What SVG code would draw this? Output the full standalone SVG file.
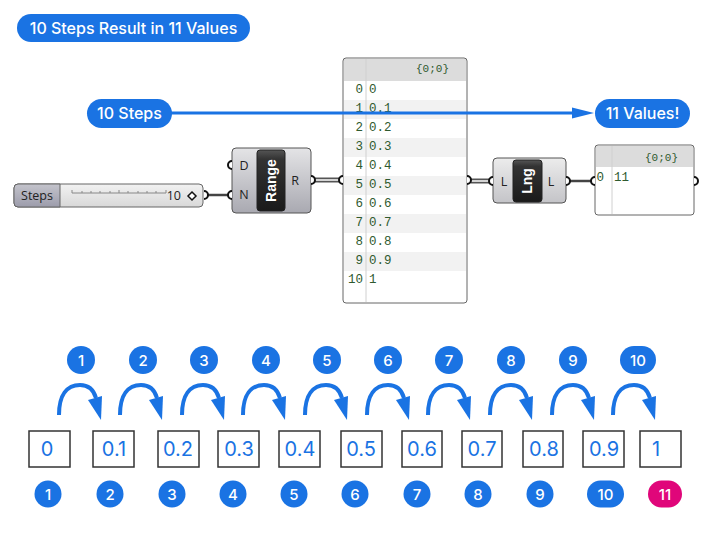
<svg xmlns="http://www.w3.org/2000/svg" xmlns:xlink="http://www.w3.org/1999/xlink" width="712" height="556" viewBox="0 0 712 556">
<style>
.pill{fill:#1a73e3}
.pt{font-family:Inter,"Liberation Sans",sans-serif;font-weight:500;fill:#fff;text-anchor:middle}
.big{font-size:16px}
.num{font-size:15px}
.box{fill:#fff;stroke:#333;stroke-width:1.5}
.bt{font-family:Inter,"Liberation Sans",sans-serif;font-size:20px;fill:#1a73e3;text-anchor:middle}
.wire{stroke:#444;stroke-width:2.5;fill:none}
.dw{stroke:#555;stroke-width:5;fill:none}
.dwi{stroke:#fff;stroke-width:1.5;fill:none}
.nub{fill:#fff;stroke:#111;stroke-width:2}
.comp{stroke:#555;stroke-width:1}
.port{font-family:"Open Sans","Liberation Sans",sans-serif;font-size:12.5px;fill:#222;text-anchor:middle}
.ctitle{font-family:"Liberation Sans",sans-serif;font-size:14px;font-weight:bold;fill:#fff;text-anchor:middle}
.pn{font-family:"Liberation Mono",monospace;font-size:12.5px;fill:#2f5a2f}
.ph{font-family:"Liberation Mono",monospace;font-size:11px;fill:#2f5a2f}
.stripe{fill:#f2f2f2}
.hop{fill:none;stroke:#1a73e3;stroke-width:4}
.hoph{fill:#1a73e3}
</style>
<defs>
<linearGradient id="body" x1="0" y1="0" x2="0" y2="1">
<stop offset="0" stop-color="#e4e4e6"/>
<stop offset="1" stop-color="#a9a9b1"/>
</linearGradient>
<linearGradient id="body2" x1="0" y1="0" x2="0" y2="1">
<stop offset="0" stop-color="#ececec"/>
<stop offset="1" stop-color="#c4c4c8"/>
</linearGradient>
<linearGradient id="blk" x1="0" y1="0" x2="0" y2="1">
<stop offset="0" stop-color="#555"/>
<stop offset="0.15" stop-color="#333"/>
<stop offset="1" stop-color="#1a1a1a"/>
</linearGradient>
<linearGradient id="slab" x1="0" y1="0" x2="0" y2="1">
<stop offset="0" stop-color="#c4c4cc"/>
<stop offset="1" stop-color="#9c9cab"/>
</linearGradient>
<linearGradient id="sval" x1="0" y1="0" x2="0" y2="1">
<stop offset="0" stop-color="#f2f2f2"/>
<stop offset="1" stop-color="#d8d8d8"/>
</linearGradient>
<g id="hop">
<path class="hop" d="M0 0 C0 -20 8 -30 21 -30 C30 -30 35 -24 37 -17"/>
<polygon class="hoph" points="29,-15 43,-19 42,5"/>
</g>
</defs>

<!-- title -->
<g id="title">
<rect class="pill" x="17" y="14" width="233" height="28" rx="14"/>
<text class="pt big" x="133.5" y="34">10 Steps Result in 11 Values</text>
</g>

<!-- connectors -->
<g id="connectors">
<path class="wire" d="M207 195 H228"/>
<path class="dw" d="M315 180 H339"/>
<path class="dwi" d="M315 180 H339"/>
<path class="dw" d="M471 181 H489"/>
<path class="dwi" d="M471 181 H489"/>
<path class="wire" d="M570 181 H591"/>
</g>

<!-- slider -->
<g id="slider">
<rect x="14" y="184" width="189" height="23" rx="4" fill="url(#sval)" stroke="#666" stroke-width="1"/>
<path d="M18 184 H60 V207 H18 A4 4 0 0 1 14 203 V188 A4 4 0 0 1 18 184 Z" fill="url(#slab)" stroke="#666" stroke-width="1"/>
<text x="37" y="200" class="port">Steps</text>
<path d="M72 193 H166 M72 193 v-3 M82 193 v-2 M91 193 v-2 M100 193 v-2 M110 193 v-2 M119 193 v-3 M128 193 v-2 M138 193 v-2 M147 193 v-2 M156 193 v-2 M166 193 v-3" stroke="#888" stroke-width="1" fill="none"/>
<text x="181" y="200" font-family="'Open Sans','Liberation Sans',sans-serif" font-size="12.5" fill="#222" text-anchor="end">10</text>
<path d="M192 192 L196 196 L192 200 L188 196 Z" fill="#fff" stroke="#111" stroke-width="1.5"/>
<path class="nub" d="M204 191 A4 4 0 0 1 204 199"/>
</g>

<!-- Range component -->
<g id="range">
<rect class="comp" x="232" y="148" width="79" height="65" rx="4" fill="url(#body)"/>
<rect x="257" y="150" width="28" height="61" rx="3" fill="url(#blk)" stroke="#222"/>
<text class="ctitle" transform="translate(276 180.5) rotate(-90)">Range</text>
<text class="port" x="244" y="170">D</text>
<text class="port" x="244" y="199">N</text>
<text class="port" x="295" y="185">R</text>
<path class="nub" d="M232 161 A4 4 0 0 0 232 169"/>
<path class="nub" d="M232 191 A4 4 0 0 0 232 199"/>
<path class="nub" d="M311 176 A4 4 0 0 1 311 184"/>
</g>

<!-- big panel -->
<g id="panel1">
<rect x="343" y="58" width="124" height="245" rx="3" fill="#fff" stroke="#666" stroke-width="1"/>
<rect x="344" y="59" width="122" height="22" fill="#dcdcdc"/>
<rect class="stripe" x="344" y="100" width="122" height="19"/>
<rect class="stripe" x="344" y="138" width="122" height="19"/>
<rect class="stripe" x="344" y="176" width="122" height="19"/>
<rect class="stripe" x="344" y="214" width="122" height="19"/>
<rect class="stripe" x="344" y="252" width="122" height="19"/>
<line x1="366" y1="59" x2="366" y2="302" stroke="#d0d0d0" stroke-width="1"/>
<text class="ph" x="449" y="72" text-anchor="end">{0;0}</text>
<g class="pn">
<text x="363" y="93" text-anchor="end">0</text><text x="369" y="93">0</text>
<text x="363" y="112" text-anchor="end">1</text><text x="369" y="112">0.1</text>
<text x="363" y="131" text-anchor="end">2</text><text x="369" y="131">0.2</text>
<text x="363" y="150" text-anchor="end">3</text><text x="369" y="150">0.3</text>
<text x="363" y="169" text-anchor="end">4</text><text x="369" y="169">0.4</text>
<text x="363" y="188" text-anchor="end">5</text><text x="369" y="188">0.5</text>
<text x="363" y="207" text-anchor="end">6</text><text x="369" y="207">0.6</text>
<text x="363" y="226" text-anchor="end">7</text><text x="369" y="226">0.7</text>
<text x="363" y="245" text-anchor="end">8</text><text x="369" y="245">0.8</text>
<text x="363" y="264" text-anchor="end">9</text><text x="369" y="264">0.9</text>
<text x="363" y="283" text-anchor="end">10</text><text x="369" y="283">1</text>
</g>
<path class="nub" d="M343 176 A4 4 0 0 0 343 184"/>
<path class="nub" d="M467 176 A4 4 0 0 1 467 184"/>
</g>

<!-- Lng component -->
<g id="lng">
<rect class="comp" x="493" y="158" width="73" height="45" rx="4" fill="url(#body2)"/>
<rect x="513" y="160" width="29" height="42" rx="3" fill="url(#blk)" stroke="#222"/>
<text class="ctitle" transform="translate(532 181) rotate(-90)">Lng</text>
<text class="port" x="504" y="186">L</text>
<text class="port" x="551" y="186">L</text>
<path class="nub" d="M493 177 A4 4 0 0 0 493 185"/>
<path class="nub" d="M566 177 A4 4 0 0 1 566 185"/>
</g>

<!-- small panel -->
<g id="panel2">
<rect x="595" y="145" width="99" height="70" rx="3" fill="#fff" stroke="#666" stroke-width="1"/>
<rect x="596" y="146" width="97" height="21" fill="#dcdcdc"/>
<line x1="612" y1="146" x2="612" y2="214" stroke="#d0d0d0" stroke-width="1"/>
<text class="ph" x="678" y="161" text-anchor="end">{0;0}</text>
<text class="pn" x="604" y="181" text-anchor="end">0</text>
<text class="pn" x="614" y="181">11</text>
<path class="nub" d="M595 177 A4 4 0 0 0 595 185"/>
<path class="nub" d="M694 177 A4 4 0 0 1 694 185"/>
</g>

<!-- blue annotation arrow -->
<g id="annot-line">
<line x1="170" y1="113" x2="574" y2="113" stroke="#1a73e3" stroke-width="3"/>
<polygon class="hoph" points="572,107.5 594,113 572,118.5"/>
</g>
<g id="steps-label">
<rect class="pill" x="87" y="99" width="85" height="29" rx="14.5"/>
<text class="pt big" x="129.5" y="119">10 Steps</text>
</g>
<g id="values-label">
<rect class="pill" x="595" y="99" width="95" height="29" rx="14.5"/>
<text class="pt big" x="642.5" y="119">11 Values!</text>
</g>

<!-- top step numbers -->
<g id="steps-top">
<circle class="pill" cx="81" cy="360" r="14"/><text class="pt num" x="81" y="365.5">1</text>
<circle class="pill" cx="143" cy="360" r="14"/><text class="pt num" x="143" y="365.5">2</text>
<circle class="pill" cx="204" cy="360" r="14"/><text class="pt num" x="204" y="365.5">3</text>
<circle class="pill" cx="266" cy="360" r="14"/><text class="pt num" x="266" y="365.5">4</text>
<circle class="pill" cx="327" cy="360" r="14"/><text class="pt num" x="327" y="365.5">5</text>
<circle class="pill" cx="388" cy="360" r="14"/><text class="pt num" x="388" y="365.5">6</text>
<circle class="pill" cx="449" cy="360" r="14"/><text class="pt num" x="449" y="365.5">7</text>
<circle class="pill" cx="511" cy="360" r="14"/><text class="pt num" x="511" y="365.5">8</text>
<circle class="pill" cx="573" cy="360" r="14"/><text class="pt num" x="573" y="365.5">9</text>
<rect class="pill" x="620" y="346" width="36" height="28" rx="14"/><text class="pt num" x="638" y="365.5">10</text>
</g>

<!-- hop arrows -->
<g id="hops">
<use xlink:href="#hop" href="#hop" x="59" y="415"/>
<use xlink:href="#hop" href="#hop" x="120" y="415"/>
<use xlink:href="#hop" href="#hop" x="182" y="415"/>
<use xlink:href="#hop" href="#hop" x="243" y="415"/>
<use xlink:href="#hop" href="#hop" x="305" y="415"/>
<use xlink:href="#hop" href="#hop" x="367" y="415"/>
<use xlink:href="#hop" href="#hop" x="428" y="415"/>
<use xlink:href="#hop" href="#hop" x="490" y="415"/>
<use xlink:href="#hop" href="#hop" x="552" y="415"/>
<use xlink:href="#hop" href="#hop" x="613" y="415"/>
</g>

<!-- value boxes -->
<g id="values">
<g id="v0"><rect class="box" x="29" y="431" width="41" height="36"/><text class="bt" x="47" y="456">0</text></g>
<g id="v1"><rect class="box" x="93" y="431" width="41" height="36"/><text class="bt" x="114" y="456">0.1</text></g>
<g id="v2"><rect class="box" x="158" y="431" width="41" height="36"/><text class="bt" x="178" y="456">0.2</text></g>
<g id="v3"><rect class="box" x="218" y="431" width="41" height="36"/><text class="bt" x="239" y="456">0.3</text></g>
<g id="v4"><rect class="box" x="279" y="431" width="41" height="36"/><text class="bt" x="300" y="456">0.4</text></g>
<g id="v5"><rect class="box" x="341" y="431" width="41" height="36"/><text class="bt" x="361" y="456">0.5</text></g>
<g id="v6"><rect class="box" x="402" y="431" width="40" height="36"/><text class="bt" x="422" y="456">0.6</text></g>
<g id="v7"><rect class="box" x="462" y="431" width="40" height="36"/><text class="bt" x="482" y="456">0.7</text></g>
<g id="v8"><rect class="box" x="523" y="431" width="40" height="36"/><text class="bt" x="544" y="456">0.8</text></g>
<g id="v9"><rect class="box" x="583" y="431" width="41" height="36"/><text class="bt" x="604" y="456">0.9</text></g>
<g id="v10"><rect class="box" x="640" y="431" width="41" height="36"/><text class="bt" x="656" y="456">1</text></g>
</g>

<!-- bottom counts -->
<g id="counts">
<circle class="pill" cx="48" cy="494" r="13.5"/><text class="pt num" x="48" y="499.5">1</text>
<circle class="pill" cx="110" cy="494" r="13.5"/><text class="pt num" x="110" y="499.5">2</text>
<circle class="pill" cx="172" cy="494" r="13.5"/><text class="pt num" x="172" y="499.5">3</text>
<circle class="pill" cx="233" cy="494" r="13.5"/><text class="pt num" x="233" y="499.5">4</text>
<circle class="pill" cx="294" cy="494" r="13.5"/><text class="pt num" x="294" y="499.5">5</text>
<circle class="pill" cx="355" cy="494" r="13.5"/><text class="pt num" x="355" y="499.5">6</text>
<circle class="pill" cx="417" cy="494" r="13.5"/><text class="pt num" x="417" y="499.5">7</text>
<circle class="pill" cx="478" cy="494" r="13.5"/><text class="pt num" x="478" y="499.5">8</text>
<circle class="pill" cx="540" cy="494" r="13.5"/><text class="pt num" x="540" y="499.5">9</text>
<rect class="pill" x="587" y="480.5" width="37" height="27" rx="13.5"/><text class="pt num" x="605.5" y="499.5">10</text>
<rect x="648" y="480.5" width="34" height="27" rx="13.5" fill="#e0067a"/><text class="pt num" x="665" y="499.5">11</text>
</g>
</svg>
